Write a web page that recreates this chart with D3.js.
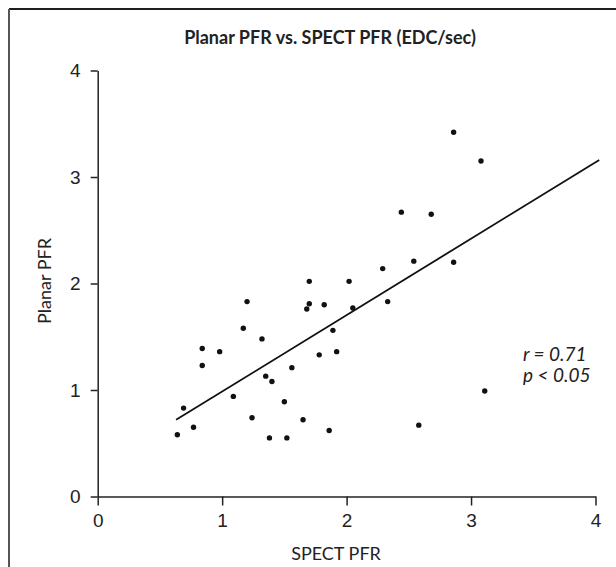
<!DOCTYPE html>
<html>
<head>
<meta charset="utf-8">
<script src="https://cdn.jsdelivr.net/npm/d3@7.9.0/dist/d3.min.js"></script>
<style>
  html, body { margin: 0; padding: 0; background: #fff; }
  svg { display: block; font-family: Lato, "Open Sans", sans-serif; }
  .axis path, .axis line { stroke: #222; stroke-width: 1.5; }
  .axis text { font-size: 19px; fill: #222; }
</style>
</head>
<body>
<svg id="chart" width="616" height="567"></svg>
<script>
// ======== 数据（从图上读出来的） ========
const spectPFR = [0.64, 0.69, 0.77, 0.84, 0.84, 0.98, 1.09, 1.17, 1.20, 1.24,
                  1.32, 1.35, 1.40, 1.50, 1.38, 1.52, 1.56, 1.65, 1.68, 1.70,
                  1.70, 1.78, 1.82, 1.86, 1.89, 1.92, 2.02, 2.05, 2.29, 2.33,
                  2.44, 2.54, 2.58, 2.68, 2.86, 2.86, 3.08, 3.11];
const planarPFR = [0.58, 0.83, 0.65, 1.39, 1.23, 1.36, 0.94, 1.58, 1.83, 0.74,
                   1.48, 1.13, 1.08, 0.89, 0.55, 0.55, 1.21, 0.72, 1.76, 1.81,
                   2.02, 1.33, 1.80, 0.62, 1.56, 1.36, 2.02, 1.77, 2.14, 1.83,
                   2.67, 2.21, 0.67, 2.65, 3.42, 2.20, 3.15, 0.99];
// 回归线两端
const fitX = [0.63, 4.03];
const fitY = [0.72, 3.16];
const xTicks = [0, 1, 2, 3, 4];
const yTicks = [0, 1, 2, 3, 4];
const stats = ['r = 0.71', 'p < 0.05'];

const points = spectPFR.map((x, i) => ({ x, y: planarPFR[i] }));

// ======== 画布 ========
const svg = d3.select('#chart');

// 外框（上边深色，左边灰色）
svg.append('line').attr('x1', 9).attr('x2', 616).attr('y1', 9).attr('y2', 9)
  .attr('stroke', '#1e1e1e').attr('stroke-width', 2);
svg.append('line').attr('x1', 9).attr('x2', 9).attr('y1', 9).attr('y2', 567)
  .attr('stroke', '#555').attr('stroke-width', 2);

// 比例尺
const x = d3.scaleLinear().domain([0, 4]).range([97.7, 595.5]);
const y = d3.scaleLinear().domain([0, 4]).range([496.5, 70.5]);

// 坐标轴（整数刻度）
svg.append('g')
  .attr('class', 'axis')
  .attr('transform', `translate(0,${y(0)})`)
  .call(d3.axisBottom(x).tickValues(xTicks).tickFormat(d3.format('d'))
    .tickSize(9).tickSizeOuter(0).tickPadding(8));

svg.append('g')
  .attr('class', 'axis')
  .attr('transform', `translate(${x(0)},0)`)
  .call(d3.axisLeft(y).tickValues(yTicks).tickFormat(d3.format('d'))
    .tickSize(7).tickSizeOuter(0).tickPadding(10));

// 回归线
svg.append('line')
  .attr('x1', x(fitX[0])).attr('y1', y(fitY[0]))
  .attr('x2', x(fitX[1])).attr('y2', y(fitY[1]))
  .attr('stroke', '#111').attr('stroke-width', 1.8);

// 散点
svg.selectAll('circle.pt')
  .data(points)
  .enter()
  .append('circle')
  .attr('class', 'pt')
  .attr('cx', d => x(d.x))
  .attr('cy', d => y(d.y))
  .attr('r', 2.7)
  .attr('fill', '#111');

// 标题
svg.append('text')
  .attr('x', 330).attr('y', 44)
  .attr('text-anchor', 'middle')
  .attr('font-size', 18).attr('font-weight', 'bold').attr('fill', '#222')
  .text('Planar PFR vs. SPECT PFR (EDC/sec)');

// 轴标题
svg.append('text')
  .attr('x', 336).attr('y', 560)
  .attr('text-anchor', 'middle')
  .attr('font-size', 18).attr('fill', '#222')
  .text('SPECT PFR');

svg.append('text')
  .attr('transform', 'translate(51,281) rotate(-90)')
  .attr('text-anchor', 'middle')
  .attr('font-size', 18).attr('fill', '#222')
  .text('Planar PFR');

// r / p 注释
svg.selectAll('text.stat')
  .data(stats)
  .enter()
  .append('text')
  .attr('class', 'stat')
  .attr('x', 523)
  .attr('y', (d, i) => 360.5 + i * 21.7)
  .attr('font-size', 19).attr('font-style', 'italic').attr('fill', '#222')
  .text(d => d);
</script>
</body>
</html>
